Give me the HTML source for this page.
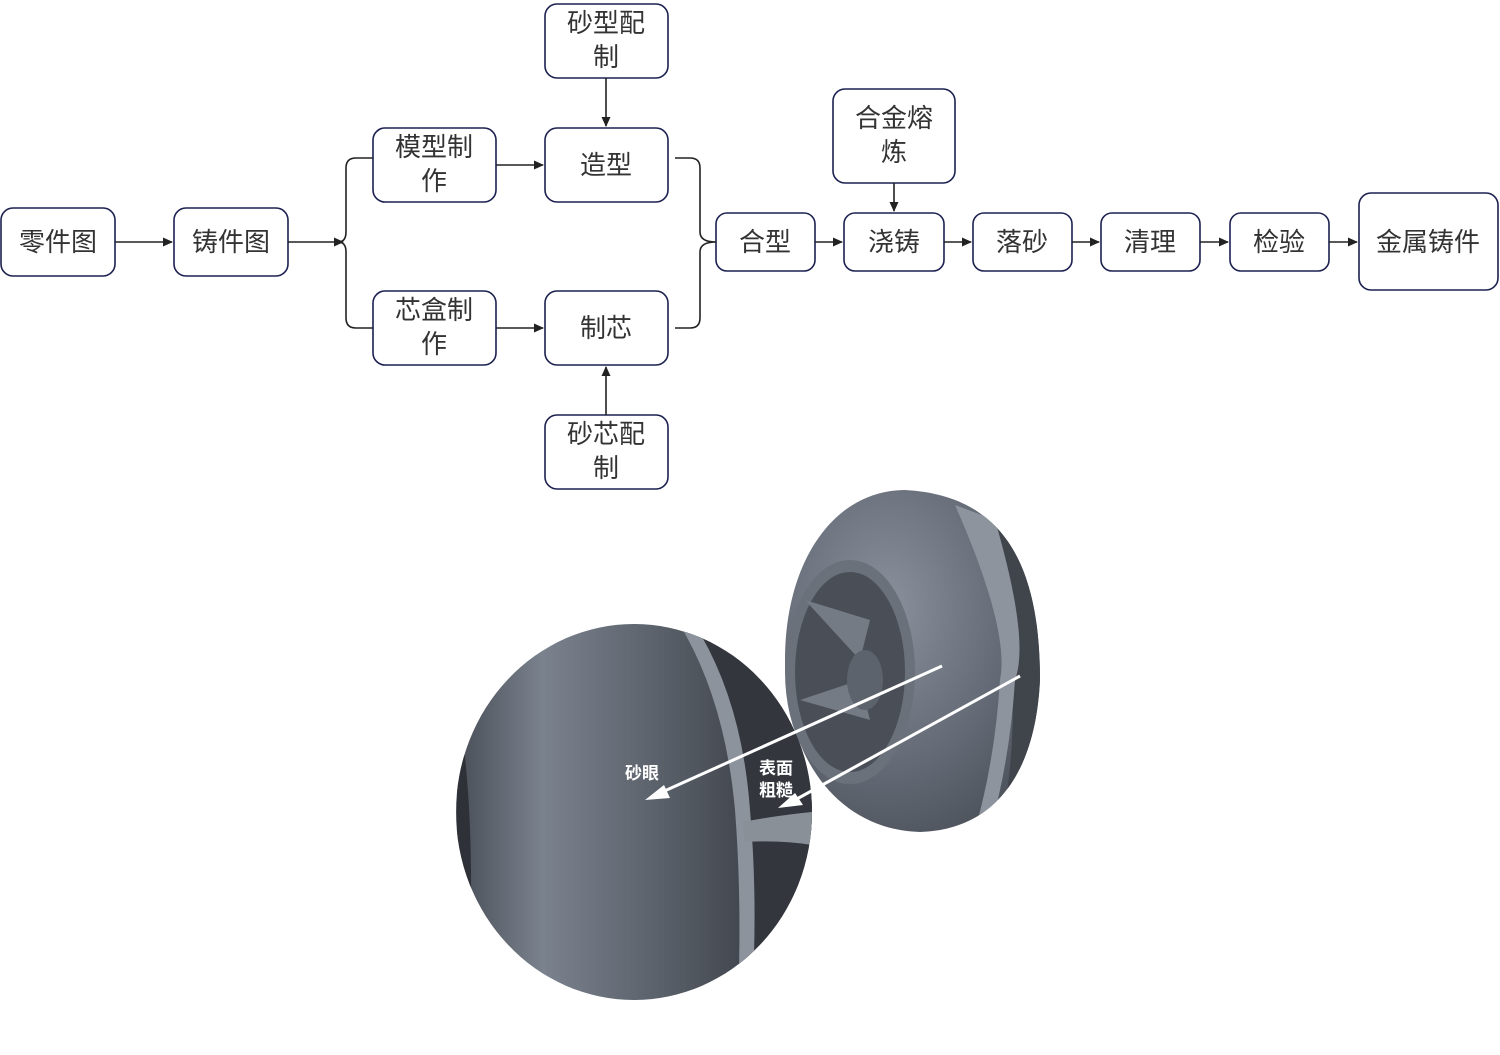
<!DOCTYPE html>
<html><head><meta charset="utf-8"><style>
html,body{margin:0;padding:0;background:#fff;}
svg{display:block;}
text{font-family:"Liberation Sans","Noto Sans CJK SC",sans-serif;fill:#333;font-size:26px;text-anchor:middle;}
.b{fill:#fff;stroke:#1c2150;stroke-width:1.6;}
.l{stroke:#222;stroke-width:1.6;fill:none;}
.w{fill:#fff;font-size:17px;font-weight:bold;}
</style></head><body>
<svg width="1500" height="1055" viewBox="0 0 1500 1055" xmlns="http://www.w3.org/2000/svg">
<defs>
<marker id="a" markerWidth="10" markerHeight="10" refX="9" refY="5" orient="auto" markerUnits="userSpaceOnUse"><path d="M0,0.5 L10,5 L0,9.5 z" fill="#222"/></marker>
<radialGradient id="g1" cx="0.4" cy="0.35" r="0.8"><stop offset="0" stop-color="#8a919c"/><stop offset="0.6" stop-color="#626873"/><stop offset="1" stop-color="#454a52"/></radialGradient>
<linearGradient id="g2" x1="0" y1="0" x2="1" y2="0"><stop offset="0" stop-color="#454a52"/><stop offset="0.25" stop-color="#7a828e"/><stop offset="0.6" stop-color="#575d66"/><stop offset="0.8" stop-color="#42464e"/><stop offset="1" stop-color="#353940"/></linearGradient>
<clipPath id="cc"><ellipse cx="634" cy="812" rx="178" ry="188"/></clipPath>
<clipPath id="ci"><path d="M905,490 C1000,495 1040,560 1040,680 C1035,780 990,830 920,832 C840,830 785,760 785,660 C785,560 835,490 905,490 Z"/></clipPath>
</defs>

<rect class="b" x="1" y="208" width="114" height="68" rx="12"/><text x="58" y="251">零件图</text>
<rect class="b" x="174" y="208" width="114" height="68" rx="12"/><text x="231" y="251">铸件图</text>
<rect class="b" x="373" y="128" width="123" height="74" rx="12"/><text x="434" y="156">模型制</text><text x="434" y="190">作</text>
<rect class="b" x="373" y="291" width="123" height="74" rx="12"/><text x="434" y="319">芯盒制</text><text x="434" y="353">作</text>
<rect class="b" x="545" y="4" width="123" height="74" rx="12"/><text x="606" y="32">砂型配</text><text x="606" y="66">制</text>
<rect class="b" x="545" y="128" width="123" height="74" rx="12"/><text x="606" y="174">造型</text>
<rect class="b" x="545" y="291" width="123" height="74" rx="12"/><text x="606" y="337">制芯</text>
<rect class="b" x="545" y="415" width="123" height="74" rx="12"/><text x="606" y="443">砂芯配</text><text x="606" y="477">制</text>
<rect class="b" x="716" y="213" width="99" height="58" rx="11"/><text x="765" y="251">合型</text>
<rect class="b" x="833" y="89" width="122" height="94" rx="12"/><text x="894" y="127">合金熔</text><text x="894" y="161">炼</text>
<rect class="b" x="844" y="213" width="100" height="58" rx="11"/><text x="894" y="251">浇铸</text>
<rect class="b" x="973" y="213" width="99" height="58" rx="11"/><text x="1022" y="251">落砂</text>
<rect class="b" x="1101" y="213" width="99" height="58" rx="11"/><text x="1150" y="251">清理</text>
<rect class="b" x="1230" y="213" width="99" height="58" rx="11"/><text x="1279" y="251">检验</text>
<rect class="b" x="1359" y="193" width="139" height="97" rx="12"/><text x="1428" y="251">金属铸件</text>

<line class="l" x1="115" y1="242" x2="172" y2="242" marker-end="url(#a)"/>
<line class="l" x1="288" y1="242" x2="343" y2="242" marker-end="url(#a)"/>
<path class="l" d="M373,158 L356,158 Q346,158 346,168 L346,232 Q346,242 338,242 Q346,242 346,252 L346,318 Q346,328 356,328 L373,328"/>
<line class="l" x1="496" y1="165" x2="543" y2="165" marker-end="url(#a)"/>
<line class="l" x1="496" y1="328" x2="543" y2="328" marker-end="url(#a)"/>
<line class="l" x1="606" y1="78" x2="606" y2="126" marker-end="url(#a)"/>
<line class="l" x1="606" y1="415" x2="606" y2="367" marker-end="url(#a)"/>
<path class="l" d="M675,158 L690,158 Q700,158 700,168 L700,232 Q700,242 716,242 Q700,242 700,252 L700,318 Q700,328 690,328 L675,328"/>
<line class="l" x1="815" y1="242" x2="842" y2="242" marker-end="url(#a)"/>
<line class="l" x1="894" y1="183" x2="894" y2="211" marker-end="url(#a)"/>
<line class="l" x1="944" y1="242" x2="971" y2="242" marker-end="url(#a)"/>
<line class="l" x1="1072" y1="242" x2="1099" y2="242" marker-end="url(#a)"/>
<line class="l" x1="1200" y1="242" x2="1228" y2="242" marker-end="url(#a)"/>
<line class="l" x1="1329" y1="242" x2="1357" y2="242" marker-end="url(#a)"/>

<g clip-path="url(#ci)">
<rect x="780" y="485" width="265" height="350" fill="url(#g1)"/>
<path d="M990,500 L1045,500 L1045,830 L1000,830 Q1030,700 990,500 Z" fill="#40444b"/>
<path d="M955,505 L995,520 Q1030,640 1015,680 Q1010,760 990,830 L975,830 Q995,760 1000,680 Q1010,630 955,505 Z" fill="#8d949e"/>
</g>
<ellipse cx="850" cy="672" rx="65" ry="112" fill="#6a717b"/>
<ellipse cx="850" cy="672" rx="55" ry="100" fill="#4a4f57"/>
<path d="M805,600 L870,620 L860,660 Z M800,700 L860,680 L870,720 Z" fill="#747b85"/>
<ellipse cx="865" cy="680" rx="18" ry="30" fill="#5d636c"/>

<g clip-path="url(#cc)">
<rect x="450" y="620" width="370" height="390" fill="url(#g2)"/>
<path d="M680,625 Q730,700 740,810 Q745,900 740,1000 L812,1000 L812,625 Z" fill="#33373d"/>
<path d="M680,625 Q725,700 735,810 Q742,900 738,1000 L752,1000 Q758,900 750,810 Q742,700 695,625 Z" fill="#8c939c"/>
<path d="M742,822 Q780,815 812,812 L812,845 Q780,840 745,842 Z" fill="#8a9098"/>
<path d="M457,700 Q475,800 470,950 L457,950 Z" fill="#2e3137"/>
</g>

<line x1="942" y1="666" x2="660" y2="793" stroke="#fff" stroke-width="3"/>
<path d="M645,800 L664,785 L670,798 Z" fill="#fff"/>
<line x1="1020" y1="676" x2="795" y2="800" stroke="#fff" stroke-width="3"/>
<path d="M778,808 L795,793 L803,805 Z" fill="#fff"/>
<text class="w" x="642" y="779">砂眼</text>
<text class="w" x="776" y="774">表面</text>
<text class="w" x="776" y="796">粗糙</text>
</svg>
</body></html>
